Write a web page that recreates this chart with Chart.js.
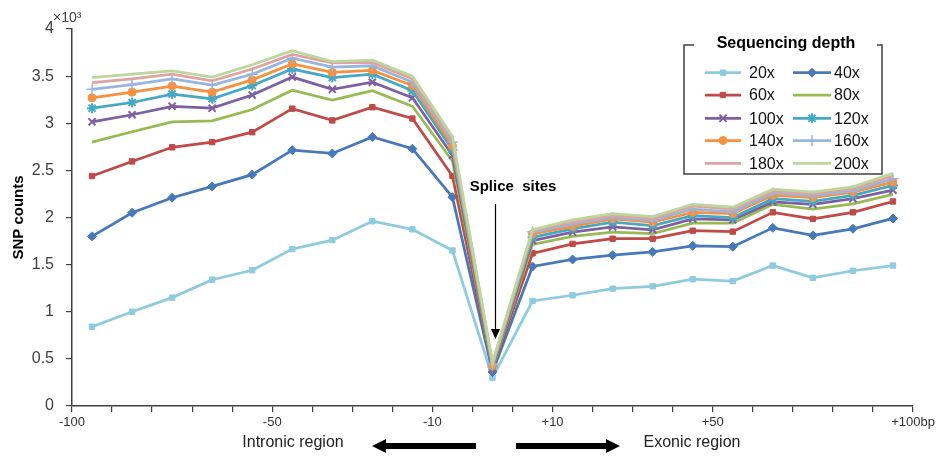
<!DOCTYPE html>
<html><head><meta charset="utf-8">
<script src="https://cdn.jsdelivr.net/npm/chart.js@4/dist/chart.umd.min.js"></script>
<style>html,body{margin:0;padding:0;background:#fff}#wrap{width:944px;height:457px;position:relative}</style>
</head><body><div id="wrap"><canvas id="c" width="944" height="457"></canvas></div>
<script>
// Bins around the splice site (relative position, bp)
const categories = ['-100','-90','-80','-70','-60','-50','-40','-30','-20','-10','0','+10','+20','+30','+40','+50','+60','+70','+80','+90','+100'];
// Tick labels at the 22 bin boundaries
const xTickLabels = ['-100','','','','','-50','','','','-10','','','+10','','','','+50','','','','','+100bp'];
const yTicks = [0,0.5,1,1.5,2,2.5,3,3.5,4];
const seriesNames = ['20x','40x','60x','80x','100x','120x','140x','160x','180x','200x'];
// SNP counts (x10^3)
const d20  = [0.84,1.00,1.15,1.34,1.44,1.665,1.76,1.96,1.875,1.65,0.30,1.115,1.175,1.245,1.27,1.345,1.325,1.49,1.36,1.435,1.49];
const d40  = [1.80,2.05,2.21,2.33,2.455,2.715,2.68,2.855,2.73,2.215,0.36,1.48,1.555,1.60,1.635,1.70,1.69,1.89,1.81,1.88,1.99];
const d60  = [2.44,2.595,2.745,2.80,2.905,3.155,3.03,3.17,3.05,2.44,0.39,1.62,1.72,1.775,1.775,1.86,1.85,2.055,1.985,2.055,2.17];
const d80  = [2.80,2.91,3.015,3.025,3.145,3.35,3.245,3.345,3.18,2.60,0.40,1.715,1.80,1.845,1.83,1.94,1.94,2.14,2.09,2.145,2.245];
const d100 = [3.015,3.09,3.18,3.16,3.30,3.49,3.36,3.435,3.27,2.66,0.41,1.755,1.845,1.90,1.87,1.985,1.975,2.165,2.14,2.20,2.29];
const d120 = [3.16,3.22,3.31,3.26,3.40,3.575,3.485,3.52,3.345,2.72,0.42,1.79,1.88,1.95,1.915,2.02,2.00,2.20,2.17,2.235,2.34];
const d140 = [3.27,3.33,3.395,3.33,3.46,3.63,3.54,3.56,3.40,2.76,0.43,1.825,1.905,1.985,1.95,2.055,2.04,2.235,2.21,2.27,2.375];
const d160 = [3.36,3.41,3.47,3.405,3.52,3.69,3.595,3.61,3.435,2.80,0.44,1.845,1.93,2.00,1.97,2.09,2.06,2.26,2.23,2.285,2.41];
const d180 = [3.43,3.47,3.52,3.45,3.575,3.73,3.64,3.645,3.47,2.83,0.45,1.86,1.95,2.02,1.99,2.12,2.09,2.28,2.25,2.305,2.44];
const d200 = [3.485,3.52,3.555,3.49,3.62,3.77,3.655,3.67,3.50,2.86,0.46,1.87,1.975,2.04,2.01,2.14,2.11,2.30,2.27,2.325,2.47];
const seriesData = [d20,d40,d60,d80,d100,d120,d140,d160,d180,d200];

const styles = [
  {c:'#8ECBDF', ps:'rect',     r:3.8, bw:1},
  {c:'#4779BA', ps:'rectRot',  r:4.5, bw:1},
  {c:'#BF4A47', ps:'rect',     r:3.8, bw:1},
  {c:'#97BA52', ps:'circle',   r:0,   bw:0},
  {c:'#7E60A1', ps:'crossRot', r:5,   bw:2},
  {c:'#45A9C4', ps:'star',     r:5,   bw:2},
  {c:'#F5913F', ps:'circle',   r:4,   bw:1},
  {c:'#98B5DB', ps:'cross',    r:5.5, bw:1.5},
  {c:'#E0A3A2', ps:'circle',   r:0,   bw:0},
  {c:'#BCD69C', ps:'circle',   r:0,   bw:0}
];
const FONT = '"Liberation Sans", Arial, sans-serif';

const datasets = seriesData.map((arr, i) => ({
  label: seriesNames[i],
  data: arr.map((v, k) => ({x: k, y: v})),
  borderColor: styles[i].c,
  backgroundColor: styles[i].c,
  borderWidth: 2.75,
  pointStyle: styles[i].ps,
  pointRadius: styles[i].r,
  pointHoverRadius: styles[i].r,
  pointBorderWidth: styles[i].bw,
  pointBorderColor: styles[i].c,
  pointBackgroundColor: styles[i].c,
  tension: 0,
  order: 10 - i
}));

const decor = {
  id: 'decor',
  afterDraw(chart) {
    const ctx = chart.ctx;
    const xs = chart.scales.x;
    ctx.save();
    // x10^3
    ctx.fillStyle = '#404040';
    ctx.font = '14px ' + FONT;
    ctx.textAlign = 'left'; ctx.textBaseline = 'middle';
    ctx.fillText('\u00d710\u00b3', 53, 18);
    // Splice sites
    ctx.fillStyle = '#000';
    ctx.font = 'bold 15px ' + FONT;
    ctx.textAlign = 'center';
    ctx.fillText('Splice  sites', 513, 187);
    const ax = xs.getPixelForValue(10) + 3;
    ctx.strokeStyle = '#000'; ctx.lineWidth = 1.2;
    ctx.beginPath(); ctx.moveTo(ax, 204); ctx.lineTo(ax, 331); ctx.stroke();
    ctx.beginPath(); ctx.moveTo(ax - 4.5, 329); ctx.lineTo(ax + 4.5, 329); ctx.lineTo(ax, 339); ctx.closePath(); ctx.fill();
    // region arrows
    const ay = 446;
    ctx.beginPath();
    ctx.moveTo(372, ay); ctx.lineTo(386, ay - 7); ctx.lineTo(386, ay - 3); ctx.lineTo(476, ay - 3);
    ctx.lineTo(476, ay + 3); ctx.lineTo(386, ay + 3); ctx.lineTo(386, ay + 7); ctx.closePath(); ctx.fill();
    ctx.beginPath();
    ctx.moveTo(620, ay); ctx.lineTo(606, ay - 7); ctx.lineTo(606, ay - 3); ctx.lineTo(516, ay - 3);
    ctx.lineTo(516, ay + 3); ctx.lineTo(606, ay + 3); ctx.lineTo(606, ay + 7); ctx.closePath(); ctx.fill();
    ctx.fillStyle = '#222';
    ctx.font = '16px ' + FONT;
    ctx.textAlign = 'center';
    ctx.fillText('Intronic region', 293, 443);
    ctx.fillText('Exonic region', 692, 443);
    // legend
    ctx.strokeStyle = '#404040'; ctx.lineWidth = 1.5;
    ctx.beginPath();
    ctx.moveTo(694, 45); ctx.lineTo(684, 45); ctx.lineTo(684, 174); ctx.lineTo(882, 174); ctx.lineTo(882, 45); ctx.lineTo(877, 45);
    ctx.stroke();
    ctx.fillStyle = '#000';
    ctx.font = 'bold 16px ' + FONT;
    ctx.fillText('Sequencing depth', 786, 44);
    const rows = [72.7, 95, 118.3, 140.5, 163.3];
    chart.data.datasets.forEach((ds, i) => {
      const col = i % 2, row = Math.floor(i / 2);
      const x0 = col ? 793 : 705, x1 = col ? 831 : 741, y = rows[row];
      ctx.strokeStyle = ds.borderColor; ctx.lineWidth = ds.borderWidth;
      ctx.beginPath(); ctx.moveTo(x0, y); ctx.lineTo(x1, y); ctx.stroke();
      if (ds.pointRadius > 0 && Chart.helpers && Chart.helpers.drawPoint) {
        ctx.fillStyle = ds.pointBackgroundColor; ctx.strokeStyle = ds.pointBorderColor;
        ctx.lineWidth = ds.pointBorderWidth;
        Chart.helpers.drawPoint(ctx, {pointStyle: ds.pointStyle, radius: ds.pointRadius, borderWidth: ds.pointBorderWidth, rotation: 0}, (x0 + x1) / 2, y);
      }
      ctx.fillStyle = '#111';
      ctx.font = '16px ' + FONT;
      ctx.textAlign = 'left';
      ctx.fillText(ds.label, col ? 834 : 749, y + 1);
    });
    ctx.restore();
  }
};

new Chart(document.getElementById('c'), {
  type: 'line',
  data: { datasets },
  options: {
    responsive: false,
    animation: false,
    events: [],
    layout: { padding: { left: 0, top: 29, right: 31, bottom: 0 } },
    plugins: { legend: { display: false }, tooltip: { enabled: false } },
    scales: {
      x: {
        type: 'linear', min: -0.5, max: 20.5,
        afterBuildTicks: s => { s.ticks = xTickLabels.map((_, k) => ({ value: k - 0.5 })); },
        afterFit: s => { s.height = 51; },
        grid: { drawOnChartArea: false, drawTicks: true, tickLength: 6, color: '#404040', lineWidth: 1.2 },
        border: { color: '#404040', width: 1.5 },
        ticks: {
          autoSkip: false, maxRotation: 0, padding: 3,
          color: '#333', font: { family: FONT, size: 13 },
          callback: (v, i) => xTickLabels[i]
        }
      },
      y: {
        min: 0, max: 4,
        afterBuildTicks: s => { s.ticks = yTicks.map(v => ({ value: v })); },
        afterFit: s => { s.width = 72; },
        grid: { drawOnChartArea: false, drawTicks: true, tickLength: 6, color: '#404040', lineWidth: 1.2 },
        border: { color: '#404040', width: 1.5 },
        title: { display: true, text: 'SNP counts', color: '#000', font: { family: FONT, size: 15, weight: 'bold' }, padding: { top: 10, bottom: 0 } },
        ticks: { color: '#404040', padding: 12, font: { family: FONT, size: 16 }, callback: v => String(v) }
      }
    }
  },
  plugins: [decor]
});
</script>
</body></html>
